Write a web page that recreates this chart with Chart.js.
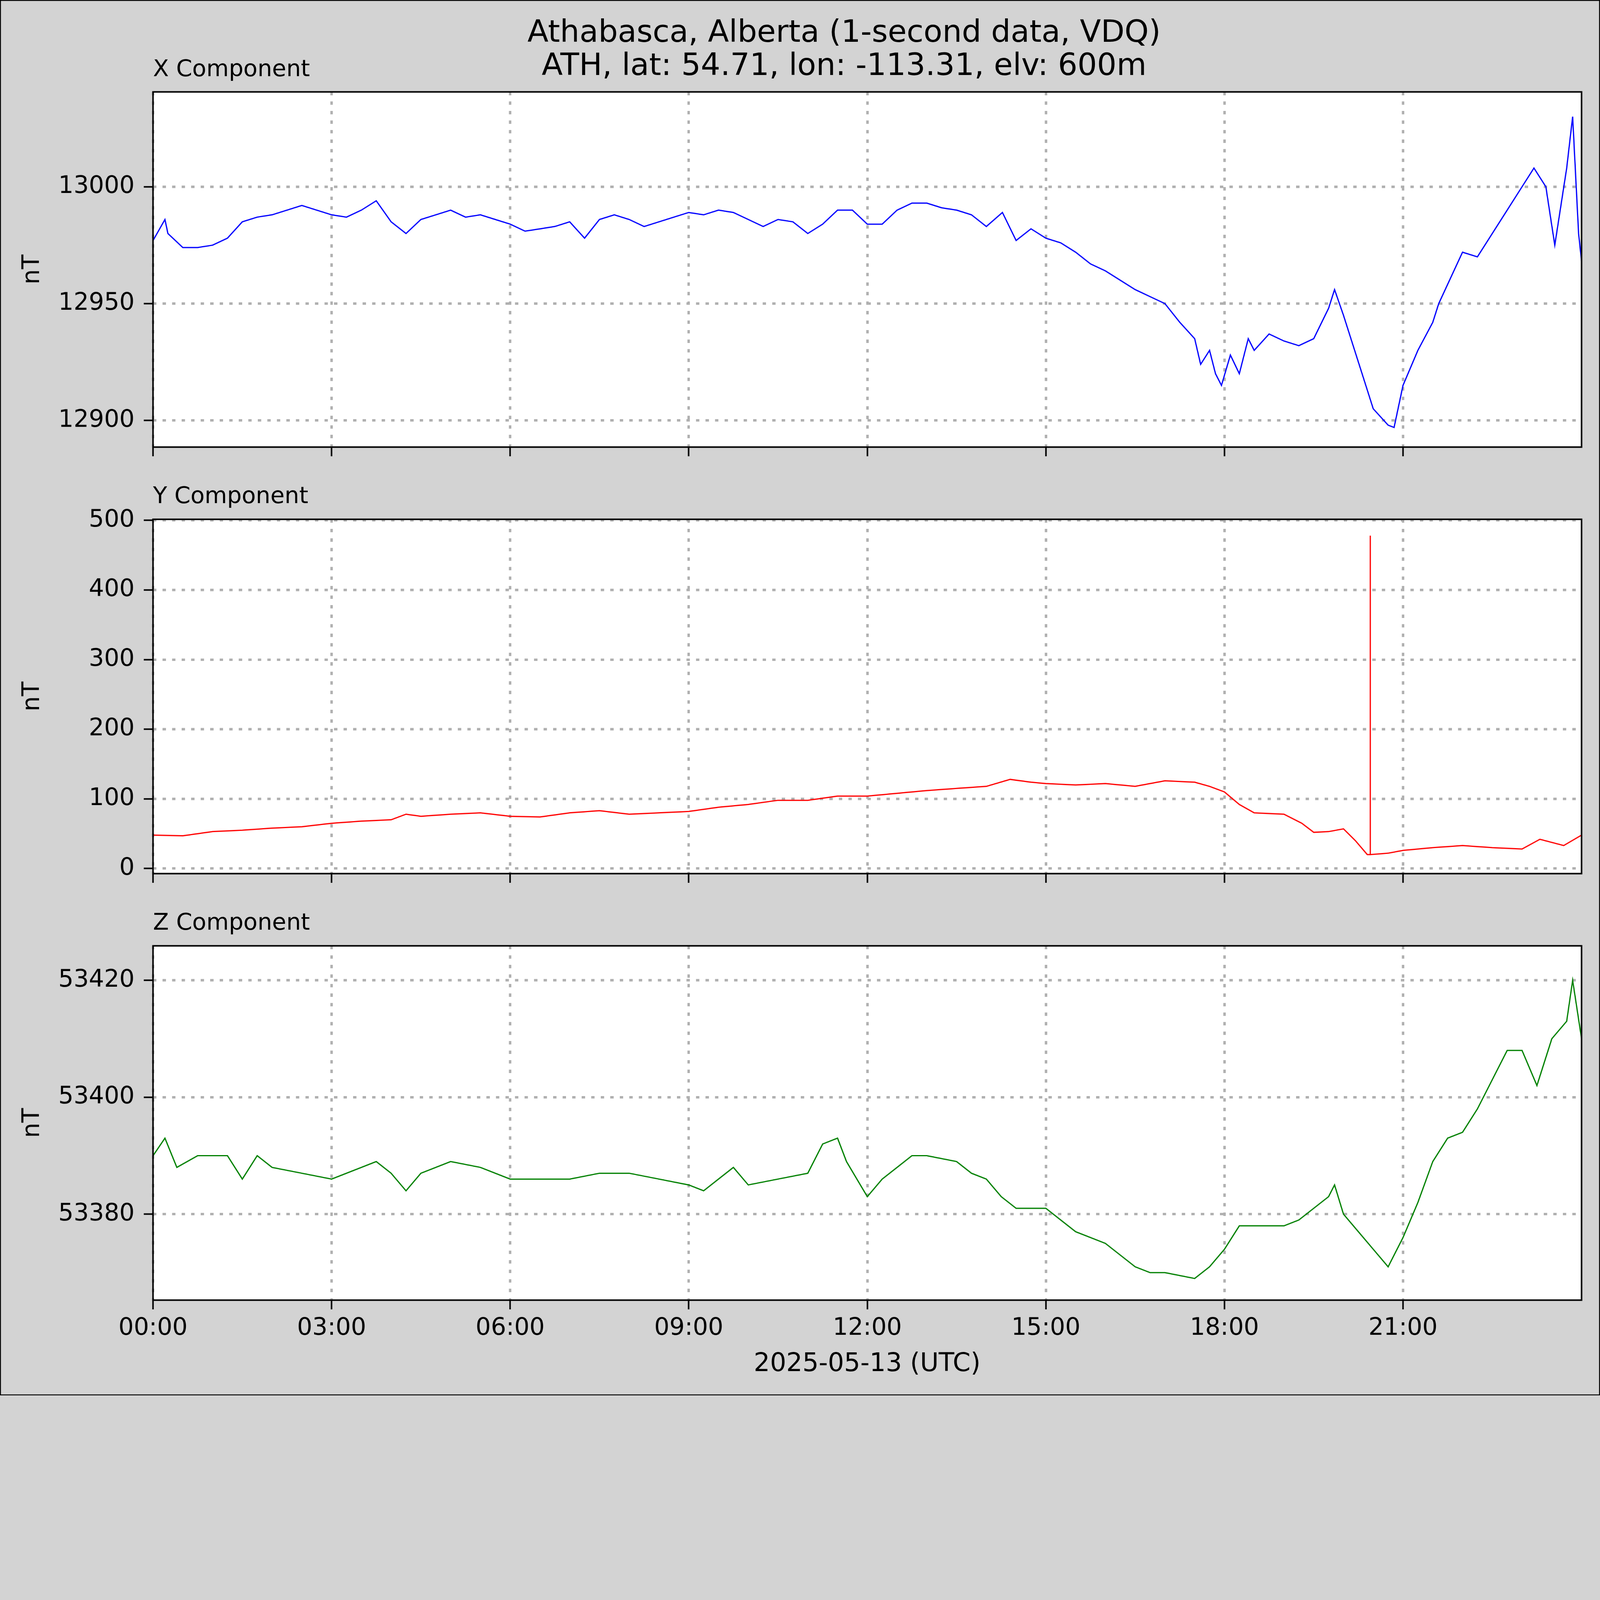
<!DOCTYPE html>
<html><head><meta charset="utf-8">
<script src="https://cdn.jsdelivr.net/npm/chart.js@4"></script>
<style>
html,body{margin:0;padding:0;background:#d3d3d3;overflow:hidden;}
#root{width:5207px;height:4541px;position:absolute;left:0;top:0;transform-origin:0 0;font-family:"DejaVu Sans";background:#d3d3d3;}
#frame{position:absolute;left:0;top:0;width:5201px;height:4535px;border:3px solid #000;}
.t{position:absolute;white-space:nowrap;color:#000;}
canvas{position:absolute;left:0;}
</style></head><body>
<div id="root">
<div id="frame"></div>
<div class="t" style="left:0;width:5494px;text-align:center;top:48px;font-size:100px;line-height:108px;">Athabasca, Alberta (1-second data, VDQ)<br>ATH, lat: 54.71, lon: -113.31, elv: 600m</div>
<div class="t" style="left:498px;top:178px;font-size:75px;">X Component</div>
<div class="t" style="left:498px;top:1567px;font-size:75px;">Y Component</div>
<div class="t" style="left:498px;top:2955px;font-size:75px;">Z Component</div>
<div class="t" style="left:0;width:5644px;text-align:center;top:4385px;font-size:83px;">2025-05-13 (UTC)</div>
<canvas id="c1"></canvas><canvas id="c2"></canvas><canvas id="c3"></canvas>
</div>
<script>
const xTickHours=[0,3,6,9,12,15,18,21];
const xTickLabels=["00:00","03:00","06:00","09:00","12:00","15:00","18:00","21:00"];
const xHours=[0,0.2,0.25,0.5,0.75,1,1.25,1.5,1.75,2,2.25,2.5,2.75,3,3.25,3.5,3.75,4,4.25,4.5,4.75,5,5.25,5.5,5.75,6,6.25,6.5,6.75,7,7.25,7.5,7.75,8,8.25,8.5,8.75,9,9.25,9.5,9.75,10,10.25,10.5,10.75,11,11.25,11.5,11.75,12,12.25,12.5,12.75,13,13.25,13.5,13.75,14,14.27,14.5,14.75,15,15.25,15.5,15.75,16,16.25,16.5,16.75,17,17.25,17.5,17.6,17.75,17.85,17.95,18.1,18.25,18.4,18.5,18.75,19,19.25,19.5,19.75,19.85,20,20.25,20.5,20.75,20.85,21,21.25,21.5,21.6,22,22.25,22.5,22.75,23,23.2,23.4,23.55,23.75,23.85,23.95,24];
const xValues=[12977,12986,12980,12974,12974,12975,12978,12985,12987,12988,12990,12992,12990,12988,12987,12990,12994,12985,12980,12986,12988,12990,12987,12988,12986,12984,12981,12982,12983,12985,12978,12986,12988,12986,12983,12985,12987,12989,12988,12990,12989,12986,12983,12986,12985,12980,12984,12990,12990,12984,12984,12990,12993,12993,12991,12990,12988,12983,12989,12977,12982,12978,12976,12972,12967,12964,12960,12956,12953,12950,12942,12935,12924,12930,12920,12915,12928,12920,12935,12930,12937,12934,12932,12935,12948,12956,12945,12925,12905,12898,12897,12915,12930,12942,12950,12972,12970,12980,12990,13000,13008,13000,12975,13008,13030,12980,12968];
const yHours=[0,0.5,1,1.5,2,2.5,3,3.5,4,4.25,4.5,5,5.5,6,6.5,7,7.5,8,8.5,9,9.5,10,10.5,11,11.5,12,12.5,13,13.5,14,14.4,14.75,15,15.5,16,16.5,17,17.5,17.75,18,18.25,18.5,19,19.3,19.5,19.75,20,20.2,20.4,20.449,20.45,20.451,20.75,21,21.5,22,22.5,23,23.3,23.7,24];
const yValues=[48,47,53,55,58,60,65,68,70,78,75,78,80,75,74,80,83,78,80,82,88,92,98,98,104,104,108,112,115,118,128,124,122,120,122,118,126,124,118,110,92,80,78,65,52,53,57,40,20,20,478,20,22,26,30,33,30,28,42,33,48];
const zHours=[0,0.2,0.4,0.75,1,1.25,1.5,1.75,2,2.5,3,3.5,3.75,4,4.25,4.5,5,5.5,6,6.5,7,7.5,8,8.5,9,9.25,9.5,9.75,10,10.5,11,11.25,11.5,11.65,12,12.25,12.5,12.75,13,13.5,13.75,14,14.25,14.5,15,15.25,15.5,16,16.25,16.5,16.75,17,17.5,17.75,18,18.25,18.5,18.75,19,19.25,19.5,19.75,19.85,20,20.25,20.5,20.75,21,21.25,21.5,21.75,22,22.25,22.5,22.75,23,23.25,23.5,23.75,23.85,24];
const zValues=[53390,53393,53388,53390,53390,53390,53386,53390,53388,53387,53386,53388,53389,53387,53384,53387,53389,53388,53386,53386,53386,53387,53387,53386,53385,53384,53386,53388,53385,53386,53387,53392,53393,53389,53383,53386,53388,53390,53390,53389,53387,53386,53383,53381,53381,53379,53377,53375,53373,53371,53370,53370,53369,53371,53374,53378,53378,53378,53378,53379,53381,53383,53385,53380,53377,53374,53371,53376,53382,53389,53393,53394,53398,53403,53408,53408,53402,53410,53413,53420,53410];
const xTicksX=[12900,12950,13000];
const yTicksY=[0,100,200,300,400,500];
const zTicksZ=[53380,53400,53420];

const root=document.getElementById('root');
root.style.transform='scale('+(window.innerWidth/5207)+')';
Chart.defaults.font.family="DejaVu Sans";
Chart.defaults.color="#000";
const PADT=60;
const frame={id:'frame',
  beforeDraw(c){const a=c.chartArea,x=c.ctx;x.save();x.fillStyle='#fff';x.fillRect(a.left,a.top,a.right-a.left,a.bottom-a.top);x.restore();},
  afterDraw(c){const a=c.chartArea,x=c.ctx;x.save();x.strokeStyle='#000';x.lineWidth=5;x.strokeRect(a.left,a.top,a.right-a.left,a.bottom-a.top);x.restore();}};
function make(id,top,ph,hs,vs,color,ymin,ymax,yt,last){
  const bottomH=last?175:32;
  const cv=document.getElementById(id);
  cv.style.top=(top-PADT)+'px';
  cv.width=5207;cv.height=ph+PADT+bottomH;
  cv.style.width='5207px';cv.style.height=(ph+PADT+bottomH)+'px';
  const pts=hs.map((h,i)=>({x:h,y:vs[i]}));
  const grid={color:'#b0b0b0',lineWidth:8,tickColor:'#000',tickBorderDash:[],tickWidth:5,tickLength:30};
  new Chart(cv,{type:'line',data:{datasets:[{data:pts,borderColor:color,borderWidth:4,pointRadius:0,tension:0}]},
  options:{responsive:false,animation:false,devicePixelRatio:1,
    layout:{padding:{top:PADT,right:60,left:0,bottom:0}},
    plugins:{legend:{display:false},tooltip:{enabled:false}},
    scales:{
      x:{type:'linear',min:0,max:24,
        afterBuildTicks(s){s.ticks=xTickHours.map(v=>({value:v}));},
        afterFit(s){s.height=bottomH;s.paddingLeft=0;s.paddingRight=0;},
        ticks:{display:last,padding:16,font:{size:78},callback:(v)=>xTickLabels[xTickHours.indexOf(v)]},
        grid:grid,
        border:{display:false,dash:[11,20]}},
      y:{type:'linear',min:ymin,max:ymax,
        afterBuildTicks(s){s.ticks=yt.map(v=>({value:v}));},
        afterFit(s){s.width=498;s.paddingTop=0;s.paddingBottom=0;},
        ticks:{padding:30,font:{size:78},callback:v=>String(v)},
        title:{display:true,text:'nT',font:{size:78},padding:{top:60,bottom:30}},
        grid:grid,
        border:{display:false,dash:[11,20]}}
    }},plugins:[frame]});
}
make('c1',299,1156,xHours,xValues,'#0000ff',12888.6,13040.6,xTicksX,false);
make('c2',1690,1153,yHours,yValues,'#ff0000',-7.3,501.5,yTicksY,false);
make('c3',3078,1153,zHours,zValues,'#008000',53365.3,53425.9,zTicksZ,true);
</script></body></html>
